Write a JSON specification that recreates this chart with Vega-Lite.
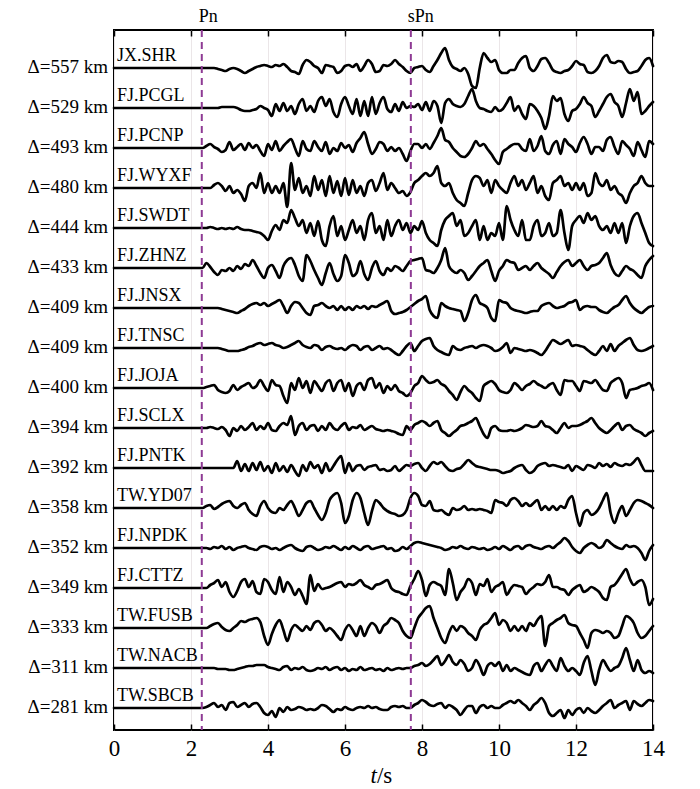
{
"$schema": "https://vega.github.io/schema/vega-lite/v6.json",
"width": 539, "height": 700,
"autosize": {"type": "none"},
"padding": {"left": 114, "top": 30, "right": 47, "bottom": 59},
"background": "white",
"config": {"view": {"stroke": "black", "strokeWidth": 2}, "font": "Liberation Serif"},
"datasets": {
"stations": [
{"k":"a","st":"JX.SHR","d":557,"lab":"Δ=557 km"},
{"k":"b","st":"FJ.PCGL","d":529,"lab":"Δ=529 km"},
{"k":"c","st":"FJ.PCNP","d":493,"lab":"Δ=493 km"},
{"k":"d","st":"FJ.WYXF","d":480,"lab":"Δ=480 km"},
{"k":"e","st":"FJ.SWDT","d":444,"lab":"Δ=444 km"},
{"k":"f","st":"FJ.ZHNZ","d":433,"lab":"Δ=433 km"},
{"k":"g","st":"FJ.JNSX","d":409,"lab":"Δ=409 km"},
{"k":"h","st":"FJ.TNSC","d":409,"lab":"Δ=409 km"},
{"k":"i","st":"FJ.JOJA","d":400,"lab":"Δ=400 km"},
{"k":"j","st":"FJ.SCLX","d":394,"lab":"Δ=394 km"},
{"k":"k","st":"FJ.PNTK","d":392,"lab":"Δ=392 km"},
{"k":"l","st":"TW.YD07","d":358,"lab":"Δ=358 km"},
{"k":"m","st":"FJ.NPDK","d":352,"lab":"Δ=352 km"},
{"k":"n","st":"FJ.CTTZ","d":349,"lab":"Δ=349 km"},
{"k":"o","st":"TW.FUSB","d":333,"lab":"Δ=333 km"},
{"k":"p","st":"TW.NACB","d":311,"lab":"Δ=311 km"},
{"k":"q","st":"TW.SBCB","d":281,"lab":"Δ=281 km"}
],
"phases": [{"ph":"Pn","t":2.28},{"ph":"sPn","t":7.71}],
"traces": [
{"t":0,"a":640,"b":600,"c":560,"d":520,"e":480,"f":440,"g":400,"h":360,"i":320,"j":280,"k":240,"l":200,"m":160,"n":120,"o":80,"p":40,"q":0},
{"t":2.3,"a":640,"b":600,"c":560,"d":520,"e":480,"f":440,"g":400,"h":360,"i":320,"j":280,"k":240,"l":200,"m":160,"n":120,"o":80,"p":40,"q":0},
{"t":2.4,"a":640,"b":600,"c":562,"d":520,"e":480,"f":445,"g":400,"h":360,"i":321,"j":280,"k":240,"l":202,"m":160,"n":120,"o":80,"p":40,"q":1},
{"t":2.5,"a":640,"b":600,"c":564,"d":520,"e":481,"f":441,"g":400,"h":360,"i":322,"j":281,"k":240,"l":203,"m":159,"n":123,"o":82,"p":40,"q":3},
{"t":2.6,"a":640,"b":600,"c":561,"d":523,"e":480,"f":436,"g":400,"h":360,"i":323,"j":280,"k":240,"l":199,"m":161,"n":125,"o":84,"p":40,"q":5},
{"t":2.7,"a":639,"b":600,"c":559,"d":525,"e":479,"f":433,"g":400,"h":360,"i":318,"j":279,"k":240,"l":201,"m":160,"n":128,"o":85,"p":39,"q":1},
{"t":2.8,"a":638,"b":601,"c":556,"d":522,"e":480,"f":438,"g":399,"h":359,"i":316,"j":281,"k":240,"l":204,"m":162,"n":121,"o":81,"p":39,"q":3},
{"t":2.9,"a":637,"b":601,"c":558,"d":517,"e":479,"f":437,"g":398,"h":358,"i":315,"j":278,"k":240,"l":206,"m":159,"n":126,"o":78,"p":39,"q":-2},
{"t":3.0,"a":639,"b":601,"c":566,"d":522,"e":480,"f":440,"g":397,"h":357,"i":317,"j":272,"k":240,"l":207,"m":161,"n":116,"o":77,"p":38,"q":5},
{"t":3.1,"a":640,"b":601,"c":558,"d":515,"e":479,"f":437,"g":396,"h":357,"i":323,"j":280,"k":240,"l":202,"m":158,"n":111,"o":80,"p":38,"q":6},
{"t":3.2,"a":639,"b":600,"c":561,"d":518,"e":481,"f":442,"g":395,"h":357,"i":318,"j":277,"k":247,"l":200,"m":160,"n":117,"o":83,"p":39,"q":1},
{"t":3.3,"a":637,"b":598,"c":564,"d":514,"e":479,"f":439,"g":397,"h":358,"i":321,"j":282,"k":237,"l":203,"m":161,"n":126,"o":87,"p":40,"q":3},
{"t":3.4,"a":635,"b":597,"c":558,"d":507,"e":478,"f":444,"g":399,"h":359,"i":323,"j":278,"k":244,"l":205,"m":162,"n":129,"o":86,"p":41,"q":5},
{"t":3.5,"a":637,"b":597,"c":565,"d":522,"e":478,"f":442,"g":402,"h":361,"i":325,"j":281,"k":237,"l":198,"m":160,"n":121,"o":88,"p":42,"q":1},
{"t":3.6,"a":639,"b":598,"c":560,"d":525,"e":477,"f":448,"g":404,"h":362,"i":320,"j":285,"k":245,"l":194,"m":159,"n":127,"o":89,"p":42,"q":4},
{"t":3.7,"a":641,"b":599,"c":563,"d":520,"e":476,"f":442,"g":405,"h":364,"i":322,"j":278,"k":238,"l":192,"m":158,"n":116,"o":90,"p":43,"q":5},
{"t":3.8,"a":642,"b":602,"c":557,"d":535,"e":475,"f":435,"g":403,"h":365,"i":328,"j":282,"k":246,"l":202,"m":161,"n":114,"o":86,"p":43,"q":1},
{"t":3.9,"a":643,"b":600,"c":552,"d":515,"e":472,"f":430,"g":405,"h":363,"i":322,"j":279,"k":237,"l":207,"m":162,"n":129,"o":72,"p":43,"q":-5},
{"t":4.0,"a":642,"b":598,"c":564,"d":525,"e":468,"f":440,"g":402,"h":364,"i":317,"j":285,"k":242,"l":200,"m":161,"n":126,"o":63,"p":41,"q":-7},
{"t":4.1,"a":641,"b":592,"c":558,"d":515,"e":477,"f":443,"g":404,"h":365,"i":328,"j":278,"k":235,"l":196,"m":159,"n":118,"o":74,"p":40,"q":-3},
{"t":4.2,"a":643,"b":604,"c":567,"d":522,"e":483,"f":437,"g":406,"h":363,"i":323,"j":277,"k":245,"l":195,"m":160,"n":114,"o":83,"p":39,"q":-9},
{"t":4.3,"a":642,"b":597,"c":557,"d":515,"e":478,"f":430,"g":408,"h":362,"i":322,"j":282,"k":237,"l":200,"m":158,"n":131,"o":88,"p":38,"q":0},
{"t":4.4,"a":644,"b":605,"c":562,"d":525,"e":488,"f":442,"g":402,"h":360,"i":312,"j":285,"k":242,"l":198,"m":160,"n":116,"o":78,"p":41,"q":-4},
{"t":4.5,"a":641,"b":597,"c":566,"d":501,"e":485,"f":448,"g":395,"h":361,"i":305,"j":283,"k":236,"l":203,"m":162,"n":126,"o":67,"p":42,"q":1},
{"t":4.6,"a":637,"b":602,"c":569,"d":545,"e":498,"f":450,"g":402,"h":363,"i":325,"j":292,"k":243,"l":207,"m":163,"n":121,"o":78,"p":38,"q":-2},
{"t":4.7,"a":636,"b":594,"c":560,"d":518,"e":490,"f":443,"g":406,"h":365,"i":318,"j":273,"k":237,"l":200,"m":160,"n":113,"o":83,"p":40,"q":-1},
{"t":4.8,"a":634,"b":604,"c":552,"d":530,"e":482,"f":432,"g":405,"h":367,"i":330,"j":282,"k":232,"l":192,"m":158,"n":119,"o":80,"p":39,"q":1},
{"t":4.9,"a":643,"b":609,"c":567,"d":515,"e":488,"f":427,"g":400,"h":363,"i":320,"j":285,"k":243,"l":198,"m":157,"n":112,"o":77,"p":41,"q":0},
{"t":5.0,"a":648,"b":597,"c":559,"d":522,"e":475,"f":453,"g":395,"h":361,"i":327,"j":278,"k":237,"l":205,"m":161,"n":104,"o":82,"p":38,"q":-2},
{"t":5.1,"a":646,"b":602,"c":557,"d":512,"e":485,"f":447,"g":393,"h":360,"i":315,"j":282,"k":246,"l":207,"m":162,"n":133,"o":78,"p":37,"q":-1},
{"t":5.2,"a":642,"b":596,"c":567,"d":532,"e":472,"f":438,"g":402,"h":363,"i":327,"j":283,"k":240,"l":200,"m":160,"n":117,"o":85,"p":38,"q":-2},
{"t":5.3,"a":640,"b":607,"c":561,"d":518,"e":487,"f":430,"g":403,"h":362,"i":322,"j":277,"k":243,"l":193,"m":158,"n":124,"o":87,"p":40,"q":0},
{"t":5.4,"a":635,"b":611,"c":557,"d":528,"e":468,"f":423,"g":405,"h":358,"i":317,"j":282,"k":235,"l":188,"m":159,"n":119,"o":83,"p":39,"q":3},
{"t":5.5,"a":643,"b":602,"c":566,"d":512,"e":462,"f":435,"g":402,"h":361,"i":325,"j":278,"k":245,"l":195,"m":161,"n":120,"o":77,"p":41,"q":2},
{"t":5.6,"a":642,"b":609,"c":554,"d":532,"e":482,"f":445,"g":400,"h":362,"i":328,"j":285,"k":237,"l":208,"m":160,"n":121,"o":80,"p":38,"q":-1},
{"t":5.7,"a":641,"b":596,"c":560,"d":515,"e":492,"f":434,"g":402,"h":360,"i":317,"j":280,"k":242,"l":213,"m":162,"n":123,"o":77,"p":40,"q":-4},
{"t":5.8,"a":635,"b":591,"c":557,"d":527,"e":472,"f":427,"g":398,"h":359,"i":325,"j":278,"k":248,"l":215,"m":160,"n":125,"o":72,"p":41,"q":-1},
{"t":5.9,"a":637,"b":604,"c":565,"d":512,"e":482,"f":432,"g":402,"h":360,"i":328,"j":282,"k":252,"l":205,"m":158,"n":126,"o":68,"p":38,"q":-2},
{"t":6.0,"a":642,"b":611,"c":560,"d":530,"e":468,"f":453,"g":398,"h":358,"i":317,"j":285,"k":235,"l":185,"m":161,"n":121,"o":78,"p":40,"q":1},
{"t":6.1,"a":643,"b":602,"c":563,"d":513,"e":478,"f":445,"g":401,"h":361,"i":325,"j":278,"k":245,"l":192,"m":159,"n":124,"o":83,"p":37,"q":-1},
{"t":6.2,"a":641,"b":594,"c":556,"d":528,"e":488,"f":432,"g":398,"h":363,"i":312,"j":281,"k":237,"l":208,"m":162,"n":123,"o":78,"p":39,"q":-2},
{"t":6.3,"a":644,"b":609,"c":565,"d":515,"e":475,"f":435,"g":402,"h":362,"i":322,"j":280,"k":242,"l":215,"m":160,"n":125,"o":72,"p":38,"q":0},
{"t":6.4,"a":637,"b":592,"c":570,"d":522,"e":482,"f":447,"g":400,"h":358,"i":325,"j":283,"k":243,"l":210,"m":158,"n":128,"o":82,"p":41,"q":1},
{"t":6.5,"a":642,"b":607,"c":576,"d":512,"e":468,"f":434,"g":402,"h":361,"i":318,"j":278,"k":238,"l":195,"m":161,"n":123,"o":72,"p":38,"q":0},
{"t":6.6,"a":648,"b":592,"c":564,"d":525,"e":488,"f":428,"g":399,"h":362,"i":328,"j":280,"k":241,"l":183,"m":162,"n":121,"o":80,"p":39,"q":2},
{"t":6.7,"a":644,"b":611,"c":554,"d":528,"e":495,"f":440,"g":402,"h":358,"i":330,"j":282,"k":242,"l":197,"m":159,"n":119,"o":85,"p":40,"q":0},
{"t":6.8,"a":636,"b":594,"c":559,"d":517,"e":475,"f":447,"g":401,"h":360,"i":320,"j":279,"k":243,"l":208,"m":160,"n":123,"o":82,"p":38,"q":1},
{"t":6.9,"a":637,"b":605,"c":566,"d":525,"e":482,"f":437,"g":403,"h":362,"i":325,"j":278,"k":238,"l":205,"m":161,"n":124,"o":75,"p":39,"q":-1},
{"t":7.0,"a":643,"b":611,"c":564,"d":535,"e":468,"f":433,"g":405,"h":359,"i":315,"j":277,"k":239,"l":200,"m":162,"n":126,"o":82,"p":37,"q":-2},
{"t":7.1,"a":642,"b":599,"c":557,"d":518,"e":488,"f":440,"g":407,"h":360,"i":322,"j":278,"k":237,"l":197,"m":159,"n":128,"o":85,"p":40,"q":-2},
{"t":7.2,"a":644,"b":596,"c":561,"d":525,"e":472,"f":437,"g":397,"h":358,"i":318,"j":277,"k":238,"l":195,"m":160,"n":120,"o":90,"p":38,"q":1},
{"t":7.3,"a":648,"b":604,"c":557,"d":520,"e":482,"f":442,"g":394,"h":355,"i":323,"j":276,"k":242,"l":194,"m":157,"n":117,"o":88,"p":39,"q":2},
{"t":7.4,"a":644,"b":597,"c":560,"d":515,"e":488,"f":440,"g":395,"h":353,"i":317,"j":274,"k":237,"l":192,"m":158,"n":116,"o":85,"p":40,"q":1},
{"t":7.5,"a":641,"b":606,"c":554,"d":517,"e":478,"f":437,"g":396,"h":357,"i":315,"j":273,"k":240,"l":193,"m":161,"n":114,"o":77,"p":39,"q":2},
{"t":7.6,"a":637,"b":600,"c":547,"d":512,"e":485,"f":442,"g":398,"h":362,"i":312,"j":282,"k":243,"l":198,"m":159,"n":113,"o":72,"p":40,"q":0},
{"t":7.7,"a":635,"b":602,"c":557,"d":516,"e":475,"f":447,"g":401,"h":365,"i":315,"j":278,"k":242,"l":210,"m":162,"n":122,"o":70,"p":40,"q":0},
{"t":7.8,"a":640,"b":601,"c":564,"d":525,"e":482,"f":448,"g":404,"h":357,"i":322,"j":283,"k":244,"l":215,"m":165,"n":129,"o":80,"p":42,"q":3},
{"t":7.9,"a":641,"b":604,"c":564,"d":528,"e":478,"f":449,"g":407,"h":362,"i":325,"j":285,"k":245,"l":212,"m":166,"n":137,"o":90,"p":43,"q":5},
{"t":8.0,"a":642,"b":598,"c":560,"d":532,"e":487,"f":450,"g":409,"h":367,"i":332,"j":287,"k":240,"l":203,"m":165,"n":128,"o":95,"p":45,"q":8},
{"t":8.1,"a":638,"b":606,"c":564,"d":535,"e":475,"f":438,"g":412,"h":369,"i":328,"j":285,"k":237,"l":202,"m":164,"n":112,"o":100,"p":42,"q":6},
{"t":8.2,"a":636,"b":597,"c":559,"d":532,"e":468,"f":437,"g":398,"h":370,"i":325,"j":282,"k":242,"l":207,"m":163,"n":123,"o":102,"p":44,"q":3},
{"t":8.3,"a":642,"b":607,"c":565,"d":535,"e":465,"f":435,"g":392,"h":362,"i":326,"j":285,"k":246,"l":198,"m":162,"n":126,"o":90,"p":48,"q":2},
{"t":8.4,"a":648,"b":602,"c":572,"d":542,"e":462,"f":440,"g":390,"h":358,"i":328,"j":287,"k":244,"l":197,"m":161,"n":124,"o":80,"p":52,"q":4},
{"t":8.5,"a":655,"b":585,"c":580,"d":525,"e":478,"f":448,"g":405,"h":356,"i":324,"j":278,"k":246,"l":198,"m":160,"n":122,"o":70,"p":43,"q":5},
{"t":8.6,"a":660,"b":605,"c":568,"d":522,"e":488,"f":460,"g":402,"h":354,"i":322,"j":275,"k":242,"l":195,"m":158,"n":113,"o":65,"p":47,"q":0},
{"t":8.7,"a":648,"b":609,"c":566,"d":525,"e":492,"f":442,"g":400,"h":353,"i":317,"j":272,"k":238,"l":193,"m":159,"n":139,"o":75,"p":53,"q":3},
{"t":8.8,"a":641,"b":604,"c":560,"d":515,"e":495,"f":437,"g":399,"h":362,"i":313,"j":275,"k":237,"l":200,"m":161,"n":125,"o":82,"p":46,"q":1},
{"t":8.9,"a":639,"b":602,"c":556,"d":508,"e":482,"f":435,"g":398,"h":359,"i":308,"j":278,"k":239,"l":198,"m":160,"n":108,"o":77,"p":43,"q":-2},
{"t":9.0,"a":637,"b":601,"c":552,"d":505,"e":488,"f":438,"g":397,"h":358,"i":316,"j":282,"k":240,"l":199,"m":162,"n":116,"o":82,"p":48,"q":-7},
{"t":9.1,"a":640,"b":604,"c":551,"d":502,"e":472,"f":435,"g":387,"h":360,"i":322,"j":283,"k":244,"l":202,"m":160,"n":121,"o":80,"p":44,"q":-2},
{"t":9.2,"a":634,"b":612,"c":554,"d":515,"e":475,"f":428,"g":395,"h":361,"i":318,"j":285,"k":248,"l":198,"m":159,"n":129,"o":75,"p":37,"q":2},
{"t":9.3,"a":622,"b":619,"c":560,"d":528,"e":482,"f":432,"g":408,"h":362,"i":315,"j":287,"k":245,"l":199,"m":161,"n":125,"o":72,"p":40,"q":2},
{"t":9.4,"a":620,"b":607,"c":567,"d":532,"e":488,"f":437,"g":413,"h":360,"i":310,"j":290,"k":242,"l":198,"m":160,"n":113,"o":68,"p":48,"q":-5},
{"t":9.5,"a":640,"b":600,"c":562,"d":530,"e":468,"f":442,"g":405,"h":362,"i":307,"j":282,"k":241,"l":199,"m":159,"n":124,"o":78,"p":42,"q":1},
{"t":9.6,"a":655,"b":599,"c":564,"d":522,"e":482,"f":445,"g":403,"h":363,"i":322,"j":274,"k":240,"l":198,"m":160,"n":122,"o":83,"p":33,"q":3},
{"t":9.7,"a":650,"b":597,"c":559,"d":528,"e":468,"f":448,"g":400,"h":362,"i":325,"j":270,"k":239,"l":197,"m":158,"n":129,"o":85,"p":42,"q":0},
{"t":9.8,"a":646,"b":596,"c":554,"d":515,"e":475,"f":437,"g":390,"h":360,"i":327,"j":280,"k":238,"l":195,"m":159,"n":116,"o":90,"p":45,"q":2},
{"t":9.9,"a":648,"b":601,"c":548,"d":528,"e":472,"f":427,"g":387,"h":357,"i":324,"j":282,"k":238,"l":208,"m":161,"n":121,"o":95,"p":42,"q":0},
{"t":10.0,"a":638,"b":597,"c":544,"d":522,"e":485,"f":437,"g":408,"h":358,"i":318,"j":278,"k":237,"l":206,"m":159,"n":123,"o":83,"p":46,"q":0},
{"t":10.1,"a":635,"b":599,"c":556,"d":518,"e":468,"f":442,"g":406,"h":361,"i":316,"j":277,"k":235,"l":205,"m":162,"n":126,"o":88,"p":37,"q":3},
{"t":10.2,"a":635,"b":605,"c":559,"d":515,"e":502,"f":448,"g":405,"h":365,"i":315,"j":277,"k":236,"l":202,"m":160,"n":113,"o":85,"p":43,"q":5},
{"t":10.3,"a":638,"b":611,"c":562,"d":525,"e":488,"f":446,"g":400,"h":355,"i":318,"j":278,"k":237,"l":208,"m":158,"n":119,"o":77,"p":37,"q":7},
{"t":10.4,"a":638,"b":597,"c":564,"d":532,"e":478,"f":445,"g":398,"h":360,"i":325,"j":277,"k":240,"l":210,"m":161,"n":123,"o":82,"p":40,"q":5},
{"t":10.5,"a":645,"b":602,"c":564,"d":522,"e":472,"f":438,"g":397,"h":359,"i":322,"j":278,"k":242,"l":207,"m":162,"n":122,"o":77,"p":38,"q":8},
{"t":10.6,"a":650,"b":594,"c":559,"d":528,"e":488,"f":440,"g":396,"h":358,"i":318,"j":280,"k":243,"l":202,"m":159,"n":121,"o":82,"p":36,"q":5},
{"t":10.7,"a":652,"b":589,"c":557,"d":518,"e":468,"f":442,"g":395,"h":357,"i":322,"j":283,"k":238,"l":205,"m":162,"n":114,"o":77,"p":34,"q":2},
{"t":10.8,"a":640,"b":604,"c":569,"d":525,"e":468,"f":438,"g":396,"h":358,"i":324,"j":282,"k":235,"l":202,"m":163,"n":118,"o":85,"p":33,"q":-2},
{"t":10.9,"a":637,"b":602,"c":557,"d":532,"e":482,"f":442,"g":397,"h":357,"i":327,"j":281,"k":237,"l":205,"m":161,"n":121,"o":82,"p":42,"q":3},
{"t":11.0,"a":642,"b":597,"c":562,"d":515,"e":488,"f":445,"g":397,"h":355,"i":324,"j":282,"k":242,"l":208,"m":160,"n":124,"o":88,"p":45,"q":6},
{"t":11.1,"a":649,"b":590,"c":572,"d":522,"e":472,"f":440,"g":402,"h":353,"i":322,"j":287,"k":244,"l":198,"m":159,"n":123,"o":92,"p":37,"q":10},
{"t":11.2,"a":650,"b":579,"c":557,"d":512,"e":475,"f":437,"g":404,"h":357,"i":320,"j":282,"k":245,"l":202,"m":161,"n":126,"o":62,"p":43,"q":5},
{"t":11.3,"a":645,"b":592,"c":554,"d":508,"e":485,"f":434,"g":405,"h":363,"i":323,"j":281,"k":242,"l":198,"m":162,"n":133,"o":82,"p":48,"q":-5},
{"t":11.4,"a":638,"b":612,"c":563,"d":525,"e":472,"f":430,"g":402,"h":368,"i":325,"j":278,"k":243,"l":202,"m":160,"n":121,"o":85,"p":42,"q":-8},
{"t":11.5,"a":636,"b":607,"c":567,"d":528,"e":475,"f":436,"g":400,"h":366,"i":318,"j":275,"k":242,"l":198,"m":163,"n":121,"o":88,"p":37,"q":-5},
{"t":11.6,"a":635,"b":610,"c":554,"d":532,"e":498,"f":442,"g":401,"h":364,"i":313,"j":280,"k":241,"l":202,"m":166,"n":119,"o":90,"p":50,"q":-2},
{"t":11.7,"a":637,"b":594,"c":569,"d":522,"e":475,"f":446,"g":402,"h":366,"i":328,"j":285,"k":240,"l":200,"m":170,"n":118,"o":93,"p":42,"q":-10},
{"t":11.8,"a":638,"b":587,"c":564,"d":525,"e":458,"f":448,"g":405,"h":368,"i":327,"j":280,"k":243,"l":208,"m":167,"n":113,"o":85,"p":37,"q":-2},
{"t":11.9,"a":642,"b":597,"c":561,"d":518,"e":482,"f":442,"g":406,"h":362,"i":327,"j":282,"k":237,"l":212,"m":161,"n":118,"o":83,"p":40,"q":-7},
{"t":12.0,"a":647,"b":599,"c":556,"d":525,"e":488,"f":445,"g":408,"h":363,"i":322,"j":282,"k":242,"l":195,"m":157,"n":121,"o":82,"p":37,"q":-2},
{"t":12.1,"a":644,"b":604,"c":565,"d":518,"e":492,"f":448,"g":398,"h":362,"i":317,"j":283,"k":240,"l":182,"m":155,"n":123,"o":75,"p":33,"q":0},
{"t":12.2,"a":643,"b":611,"c":571,"d":525,"e":485,"f":442,"g":401,"h":361,"i":327,"j":285,"k":238,"l":195,"m":160,"n":116,"o":68,"p":45,"q":-5},
{"t":12.3,"a":636,"b":605,"c":564,"d":512,"e":495,"f":438,"g":402,"h":358,"i":326,"j":287,"k":243,"l":198,"m":163,"n":118,"o":60,"p":52,"q":0},
{"t":12.4,"a":635,"b":602,"c":554,"d":515,"e":488,"f":442,"g":401,"h":355,"i":325,"j":290,"k":242,"l":193,"m":165,"n":121,"o":75,"p":37,"q":-3},
{"t":12.5,"a":637,"b":591,"c":561,"d":535,"e":492,"f":443,"g":401,"h":353,"i":328,"j":285,"k":240,"l":195,"m":163,"n":119,"o":78,"p":23,"q":-5},
{"t":12.6,"a":642,"b":597,"c":561,"d":525,"e":482,"f":445,"g":398,"h":357,"i":323,"j":280,"k":245,"l":200,"m":160,"n":116,"o":77,"p":38,"q":-2},
{"t":12.7,"a":650,"b":604,"c":557,"d":522,"e":478,"f":450,"g":396,"h":362,"i":318,"j":277,"k":242,"l":208,"m":162,"n":110,"o":75,"p":48,"q":2},
{"t":12.8,"a":653,"b":611,"c":568,"d":528,"e":482,"f":455,"g":395,"h":357,"i":317,"j":275,"k":244,"l":215,"m":168,"n":108,"o":77,"p":42,"q":5},
{"t":12.9,"a":646,"b":614,"c":571,"d":518,"e":475,"f":443,"g":398,"h":364,"i":325,"j":278,"k":241,"l":195,"m":165,"n":121,"o":75,"p":37,"q":8},
{"t":13.0,"a":645,"b":606,"c":561,"d":522,"e":485,"f":435,"g":401,"h":357,"i":328,"j":282,"k":245,"l":185,"m":162,"n":123,"o":70,"p":40,"q":0},
{"t":13.1,"a":647,"b":602,"c":554,"d":515,"e":475,"f":432,"g":403,"h":362,"i":330,"j":285,"k":243,"l":195,"m":160,"n":128,"o":72,"p":42,"q":3},
{"t":13.2,"a":646,"b":591,"c":567,"d":512,"e":485,"f":437,"g":408,"h":365,"i":325,"j":278,"k":242,"l":202,"m":159,"n":134,"o":82,"p":50,"q":5},
{"t":13.3,"a":639,"b":605,"c":563,"d":505,"e":465,"f":442,"g":412,"h":368,"i":310,"j":282,"k":244,"l":192,"m":163,"n":139,"o":92,"p":60,"q":7},
{"t":13.4,"a":635,"b":619,"c":559,"d":515,"e":482,"f":439,"g":405,"h":370,"i":318,"j":283,"k":243,"l":198,"m":161,"n":129,"o":90,"p":48,"q":-2},
{"t":13.5,"a":636,"b":607,"c":552,"d":522,"e":492,"f":437,"g":400,"h":363,"i":319,"j":279,"k":246,"l":205,"m":162,"n":123,"o":85,"p":37,"q":7},
{"t":13.6,"a":637,"b":616,"c":566,"d":525,"e":495,"f":433,"g":397,"h":358,"i":320,"j":277,"k":250,"l":208,"m":160,"n":126,"o":75,"p":48,"q":4},
{"t":13.7,"a":642,"b":594,"c":558,"d":532,"e":485,"f":430,"g":395,"h":357,"i":322,"j":275,"k":243,"l":207,"m":155,"n":128,"o":70,"p":38,"q":2},
{"t":13.8,"a":648,"b":597,"c":551,"d":525,"e":475,"f":442,"g":398,"h":358,"i":323,"j":272,"k":237,"l":205,"m":148,"n":121,"o":72,"p":35,"q":5},
{"t":13.9,"a":650,"b":602,"c":567,"d":522,"e":465,"f":448,"g":401,"h":360,"i":325,"j":275,"k":237,"l":203,"m":157,"n":103,"o":77,"p":37,"q":8},
{"t":14.0,"a":642,"b":606,"c":564,"d":522,"e":462,"f":452,"g":402,"h":362,"i":318,"j":277,"k":237,"l":200,"m":163,"n":109,"o":82,"p":35,"q":7}
]
},
"resolve": {"axis": {"x": "independent"}},
"layer": [
{
"data": {"name": "traces"},
"transform": [{"fold": ["a","b","c","d","e","f","g","h","i","j","k","l","m","n","o","p","q"], "as": ["key","v"]}],
"mark": {"type": "line", "color": "black", "strokeWidth": 2.7, "strokeJoin": "round", "strokeCap": "round", "interpolate": "monotone"},
"encoding": {
"x": {"field": "t", "type": "quantitative", "scale": {"domain": [0,14], "nice": false, "zero": false},
"axis": {"orient": "bottom", "values": [0,2,4,6,8,10,12,14], "format": "d", "title": null, "domain": false,
"grid": true, "gridColor": "#ebe6e8", "gridWidth": 1, "ticks": true, "tickSize": -6, "tickColor": "black", "tickWidth": 1.5,
"labelFont": "Liberation Serif", "labelFontSize": 23, "labelColor": "black", "labelFlush": false, "labelPadding": 13}},
"y": {"field": "v", "type": "quantitative", "scale": {"domain": [-22,678], "nice": false, "zero": false},
"axis": {"values": [0,40,80,120,160,200,240,280,320,360,400,440,480,520,560,600,640], "labels": false, "ticks": false, "domain": false, "grid": true, "gridColor": "#eee9eb", "gridWidth": 1, "title": null}},
"detail": {"field": "key"}
}
},
{
"data": {"name": "phases"},
"mark": {"type": "rule", "color": "#8e3a94", "strokeWidth": 2, "strokeDash": [7,5]},
"encoding": {
"x": {"field": "t", "type": "quantitative",
"axis": {"orient": "top", "values": [0,2,4,6,8,10,12,14], "labels": false, "ticks": true, "tickSize": -6, "tickColor": "black", "tickWidth": 1.5, "domain": false, "grid": false, "title": null}}
}
},
{
"data": {"name": "phases"},
"mark": {"type": "text", "align": "left", "baseline": "middle", "dx": -3, "dy": -13, "fontSize": 18, "font": "Liberation Serif", "color": "black"},
"encoding": {
"x": {"field": "t", "type": "quantitative", "axis": null},
"y": {"datum": 678, "type": "quantitative", "axis": null},
"text": {"field": "ph"}
}
},
{
"data": {"name": "traces"},
"transform": [
{"filter": "datum.t == 0"},
{"fold": ["a","b","c","d","e","f","g","h","i","j","k","l","m","n","o","p","q"], "as": ["key","v"]},
{"lookup": "key", "from": {"data": {"name": "stations"}, "key": "k", "fields": ["st","lab"]}}
],
"mark": {"type": "text", "align": "left", "baseline": "alphabetic", "dx": 3, "dy": -7, "fontSize": 18, "font": "Liberation Serif", "color": "black"},
"encoding": {
"x": {"field": "t", "type": "quantitative", "axis": null},
"y": {"field": "v", "type": "quantitative", "axis": null},
"text": {"field": "st"}
}
},
{
"data": {"name": "traces"},
"transform": [
{"filter": "datum.t == 0"},
{"fold": ["a","b","c","d","e","f","g","h","i","j","k","l","m","n","o","p","q"], "as": ["key","v"]},
{"lookup": "key", "from": {"data": {"name": "stations"}, "key": "k", "fields": ["st","lab"]}}
],
"mark": {"type": "text", "align": "right", "baseline": "middle", "dx": -6, "dy": -1, "fontSize": 19, "font": "Liberation Serif", "color": "black"},
"encoding": {
"x": {"field": "t", "type": "quantitative", "axis": null},
"y": {"field": "v", "type": "quantitative", "axis": null},
"text": {"field": "lab"}
}
},
{
"data": {"values": [{"part": "t"}]},
"mark": {"type": "text", "align": "right", "baseline": "middle", "dy": 46, "fontSize": 23, "font": "Liberation Serif", "fontStyle": "italic", "color": "black"},
"encoding": {
"x": {"datum": 6.83, "type": "quantitative", "axis": null},
"y": {"datum": -22, "type": "quantitative", "axis": null},
"text": {"field": "part"}
}
},
{
"data": {"values": [{"part": "/s"}]},
"mark": {"type": "text", "align": "left", "baseline": "middle", "dy": 46, "fontSize": 23, "font": "Liberation Serif", "color": "black"},
"encoding": {
"x": {"datum": 6.83, "type": "quantitative", "axis": null},
"y": {"datum": -22, "type": "quantitative", "axis": null},
"text": {"field": "part"}
}
}
]
}
